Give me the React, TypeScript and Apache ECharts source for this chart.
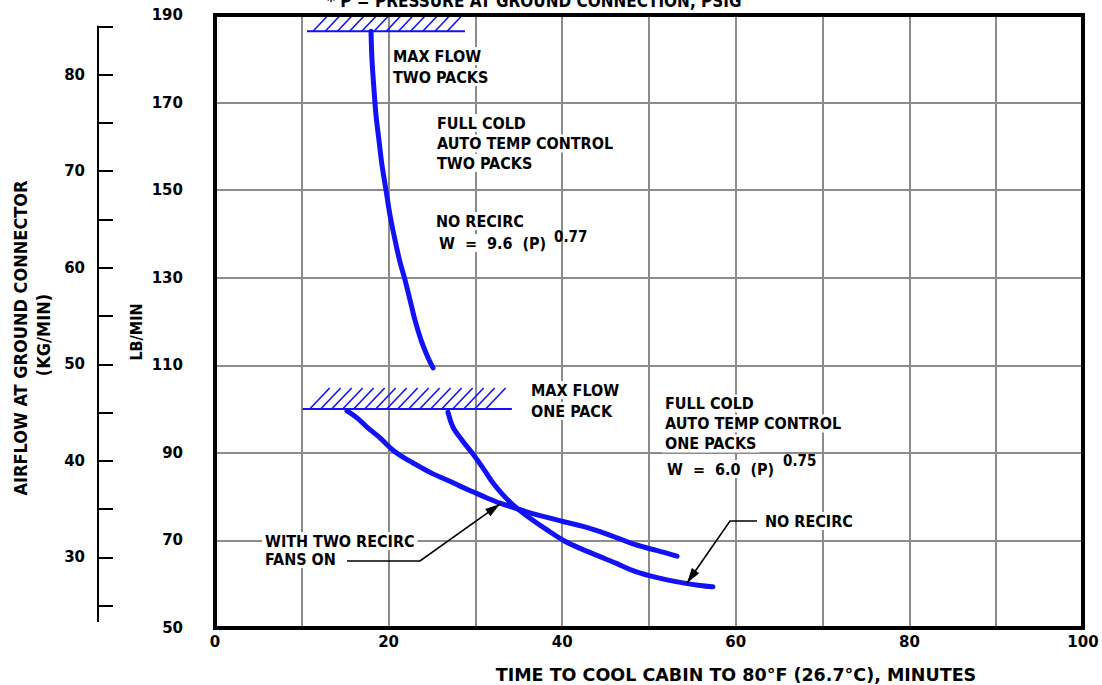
import { useEffect, useRef } from "react";
import * as echarts from "echarts";

// ---- axes ----
const X_MIN = 0;
const X_MAX = 100;
const X_STEP = 10;
const LB_MIN = 50;
const LB_MAX = 190;
const LB_STEP = 20;
const KG_MIN = 25;
const KG_MAX = 85;
const KG_STEP = 5;
const LB_PER_KG = 2.20462;

// ---- data: [minutes, lb/min] ----
const twoPacksNoRecirc: [number, number][] = [
  [17.97, 186.3], [18.09, 179.7], [18.32, 172.9], [18.55, 167.1], [18.89, 161.4],
  [19.24, 155.7], [19.7, 150.0], [20.16, 144.3], [20.74, 138.6], [21.31, 133.6],
  [21.89, 129.5], [22.47, 124.9], [23.04, 120.3], [23.73, 115.8], [24.42, 112.3],
  [25.12, 109.4],
];
const onePackNoRecirc: [number, number][] = [
  [26.84, 99.3], [27.42, 95.9], [28.46, 92.9], [29.61, 90.0], [30.88, 86.5],
  [32.03, 83.1], [33.18, 80.4], [34.33, 78.1], [35.94, 75.6], [38.25, 72.4],
  [40.32, 69.8], [42.4, 67.9], [44.35, 66.3], [46.31, 64.7], [48.16, 63.1],
  [50.12, 61.9], [52.07, 61.0], [53.92, 60.3], [55.88, 59.7], [57.37, 59.4],
];
const onePackTwoRecirc: [number, number][] = [
  [15.21, 99.6], [16.36, 98.0], [17.51, 95.9], [19.01, 93.4], [20.51, 90.6],
  [22.0, 88.6], [23.62, 86.8], [25.12, 85.2], [26.73, 83.8], [28.23, 82.4],
  [29.72, 81.1], [31.34, 79.7], [32.83, 78.5], [34.56, 77.4], [36.29, 76.3],
  [38.59, 75.1], [40.32, 74.2], [42.4, 73.2], [44.35, 72.0], [46.31, 70.6],
  [48.16, 69.2], [50.12, 68.1], [51.84, 67.2], [53.23, 66.4],
];
// max flow limits: [x start, x end, lb/min]
const maxFlowLimits: [number, number, number][] = [
  [10.6, 28.8, 186.3],
  [10.1, 34.2, 100.0],
];

// ---- layout / style ----
const W = 1102;
const H = 685;
const GRID_LEFT = 215;
const GRID_RIGHT = 19;
const GRID_TOP = 15;
const GRID_BOTTOM = 57;
const BLUE = "#1212f5";
const GRID_GRAY = "#8c8c8c";
const TICK_FONT = '"DejaVu Sans", "Liberation Sans", sans-serif';
const TEXT_FONT = '"DejaVu Sans Condensed", "DejaVu Sans", sans-serif';
const WIDE_FONT = '"DejaVu Sans", "Liberation Sans", sans-serif';
const HATCH = [
  { start: 6, gap: 12.2, dx: 17, dy: 18 },
  { start: 7, gap: 11, dx: 20, dy: 21 },
];

function label(text: string, x: number, y: number, extra: any = {}) {
  return {
    type: "text",
    z: 100,
    silent: true,
    style: {
      text,
      x,
      y,
      fill: "#000",
      fontSize: 16,
      fontWeight: "bold",
      fontFamily: TEXT_FONT,
      align: "left",
      verticalAlign: "middle",
      backgroundColor: "#fff",
      padding: [1, 3],
      ...extra,
    },
  };
}

function vLabel(text: string, x: number, y: number, fontSize: number, fontFamily: string) {
  return {
    type: "text",
    z: 100,
    x,
    y,
    rotation: Math.PI / 2,
    silent: true,
    style: {
      text,
      fill: "#000",
      fontSize,
      fontWeight: "bold",
      fontFamily,
      align: "center",
      verticalAlign: "middle",
    },
  };
}

function arrowHead(tip: [number, number], from: [number, number]) {
  const vx = tip[0] - from[0];
  const vy = tip[1] - from[1];
  const len = Math.hypot(vx, vy);
  const ux = vx / len;
  const uy = vy / len;
  const bx = tip[0] - 15 * ux;
  const by = tip[1] - 15 * uy;
  const nx = -uy * 4.5;
  const ny = ux * 4.5;
  return {
    type: "polygon",
    z: 101,
    silent: true,
    shape: { points: [tip, [bx + nx, by + ny], [bx - nx, by - ny]] },
    style: { fill: "#000" },
  };
}

export default function App() {
  const ref = useRef<HTMLDivElement>(null);
  useEffect(() => {
    document.body.style.margin = "0";
    if (!ref.current) return;
    const chart = echarts.init(ref.current, null, { renderer: "svg" });

    const plotH = H - GRID_TOP - GRID_BOTTOM;
    const pxPerLb = plotH / (LB_MAX - LB_MIN);
    const kgTop = GRID_TOP + (LB_MAX - KG_MAX * LB_PER_KG) * pxPerLb;
    const kgBottom = GRID_BOTTOM + (KG_MIN * LB_PER_KG - LB_MIN) * pxPerLb;

    const lineSeries = (name: string, data: [number, number][]) => ({
      name,
      type: "line",
      xAxisIndex: 0,
      yAxisIndex: 0,
      data,
      showSymbol: false,
      smooth: 0.35,
      silent: true,
      z: 5,
      lineStyle: { color: BLUE, width: 5, cap: "round", join: "round" },
    });

    const arrow1From: [number, number] = [420, 561];
    const arrow1Tip: [number, number] = [500, 504];
    const arrow2From: [number, number] = [730, 521];
    const arrow2Tip: [number, number] = [687, 583];

    chart.setOption({
      animation: false,
      backgroundColor: "#fff",
      grid: [
        {
          left: GRID_LEFT,
          right: GRID_RIGHT,
          top: GRID_TOP,
          bottom: GRID_BOTTOM,
          show: true,
          borderColor: "#000",
          borderWidth: 4,
          backgroundColor: "transparent",
          z: 10,
        },
        { left: 98, width: 10, top: kgTop, bottom: kgBottom },
      ],
      xAxis: [
        {
          type: "value",
          gridIndex: 0,
          min: X_MIN,
          max: X_MAX,
          interval: X_STEP,
          axisLine: { show: false },
          axisTick: { show: false },
          axisLabel: {
            margin: 6,
            color: "#000",
            fontSize: 15,
            fontWeight: "bold",
            fontFamily: TICK_FONT,
            formatter: (v: number) => (v % 20 === 0 ? String(v) : ""),
          },
          splitLine: {
            show: true,
            showMinLine: false,
            showMaxLine: false,
            lineStyle: { color: GRID_GRAY, width: 2 },
          },
        },
        { type: "value", gridIndex: 1, min: 0, max: 1, show: false },
      ],
      yAxis: [
        {
          type: "value",
          gridIndex: 0,
          min: LB_MIN,
          max: LB_MAX,
          interval: LB_STEP,
          axisLine: { show: false },
          axisTick: { show: false },
          axisLabel: {
            margin: 32,
            color: "#000",
            fontSize: 15,
            fontWeight: "bold",
            fontFamily: TICK_FONT,
          },
          splitLine: {
            show: true,
            showMinLine: false,
            showMaxLine: false,
            lineStyle: { color: GRID_GRAY, width: 2 },
          },
        },
        {
          type: "value",
          gridIndex: 1,
          position: "left",
          min: KG_MIN,
          max: KG_MAX,
          interval: KG_STEP,
          axisLine: { show: true, lineStyle: { color: "#000", width: 2 } },
          axisTick: { show: true, inside: true, length: 15, lineStyle: { color: "#000", width: 2 } },
          axisLabel: {
            margin: 13,
            color: "#000",
            fontSize: 15,
            fontWeight: "bold",
            fontFamily: TICK_FONT,
            formatter: (v: number) => (v % 10 === 0 ? String(v) : ""),
          },
          splitLine: { show: false },
        },
      ],
      series: [
        lineSeries("Two packs, no recirc", twoPacksNoRecirc),
        lineSeries("One pack, no recirc", onePackNoRecirc),
        lineSeries("One pack, two recirc fans on", onePackTwoRecirc),
        {
          name: "Max flow",
          type: "custom",
          xAxisIndex: 0,
          yAxisIndex: 0,
          clip: false,
          silent: true,
          z: 6,
          data: maxFlowLimits,
          encode: { x: [0, 1], y: 2 },
          renderItem: (params: any, api: any) => {
            const y = api.value(2);
            const p0 = api.coord([api.value(0), y]);
            const p1 = api.coord([api.value(1), y]);
            const hs = HATCH[params.dataIndex] || HATCH[0];
            const children: any[] = [
              {
                type: "line",
                shape: { x1: p0[0], y1: p0[1], x2: p1[0], y2: p1[1] },
                style: { stroke: BLUE, lineWidth: 2 },
              },
            ];
            for (let x = p0[0] + hs.start; x + hs.dx <= p1[0] + 0.5; x += hs.gap) {
              children.push({
                type: "line",
                shape: { x1: x, y1: p0[1], x2: x + hs.dx, y2: p0[1] - hs.dy },
                style: { stroke: BLUE, lineWidth: 1.6 },
              });
            }
            return { type: "group", children };
          },
        },
      ],
      graphic: [
        // top note (clipped by page edge, as in the original)
        label("* P = PRESSURE AT GROUND CONNECTION, PSIG", 324, 1, {
          fontSize: 17,
          backgroundColor: "transparent",
        }),
        // axis titles
        label("TIME TO COOL CABIN TO 80°F (26.7°C), MINUTES", 736, 675, {
          align: "center",
          fontSize: 17.5,
          fontFamily: WIDE_FONT,
          backgroundColor: "transparent",
        }),
        vLabel("LB/MIN", 136, 332, 16, TEXT_FONT),
        vLabel("AIRFLOW AT GROUND CONNECTOR", 20, 338, 18, TEXT_FONT),
        vLabel("(KG/MIN)", 43, 335, 18, TEXT_FONT),
        // kg axis line extension below last tick
        {
          type: "line",
          z: 100,
          silent: true,
          shape: { x1: 98, y1: H - kgBottom, x2: 98, y2: 622 },
          style: { stroke: "#000", lineWidth: 2 },
        },
        // annotations
        label("MAX FLOW", 390, 56),
        label("TWO PACKS", 390, 77),
        label("FULL COLD", 434, 123),
        label("AUTO TEMP CONTROL", 434, 143.5),
        label("TWO PACKS", 434, 163),
        label("NO RECIRC", 433, 221),
        label("W  =  9.6  (P)", 436, 243),
        label("0.77", 551, 237, { fontSize: 15, backgroundColor: "transparent" }),
        label("MAX FLOW", 528, 390),
        label("ONE PACK", 528, 411),
        label("FULL COLD", 662, 403.5),
        label("AUTO TEMP CONTROL", 662, 423.5),
        label("ONE PACKS", 662, 443.5),
        label("W  =  6.0  (P)", 664, 469),
        label("0.75", 780, 461, { fontSize: 15, backgroundColor: "transparent" }),
        label("NO RECIRC", 762, 521),
        label("WITH TWO RECIRC", 262, 541),
        label("FANS ON", 262, 559),
        // leaders
        {
          type: "polyline",
          z: 101,
          silent: true,
          shape: { points: [[347, 561], arrow1From, arrow1Tip] },
          style: { stroke: "#000", lineWidth: 1.6, fill: null },
        },
        arrowHead(arrow1Tip, arrow1From),
        {
          type: "polyline",
          z: 101,
          silent: true,
          shape: { points: [[757, 521], arrow2From, arrow2Tip] },
          style: { stroke: "#000", lineWidth: 1.6, fill: null },
        },
        arrowHead(arrow2Tip, arrow2From),
      ],
    });
    return () => chart.dispose();
  }, []);
  return <div ref={ref} style={{ width: W, height: H }} />;
}
